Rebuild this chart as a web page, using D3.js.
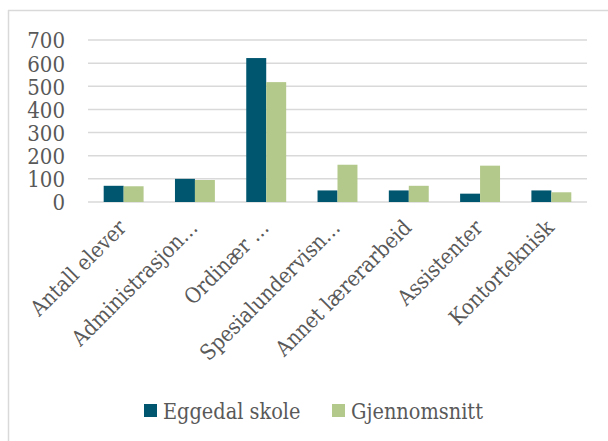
<!DOCTYPE html>
<html><head><meta charset="utf-8">
<script src="https://cdn.jsdelivr.net/npm/d3@7"></script>
<style>body{margin:0;background:#fff}svg{display:block}</style>
</head><body>
<script>
const categories = ["Antall elever","Administrasjon…","Ordinær …","Spesialundervisn…","Annet lærerarbeid","Assistenter","Kontorteknisk"];
const seriesNames = ["Eggedal skole","Gjennomsnitt"];
const eggedal = [70,100,622,50,50,36,50];
const snitt = [68,95,518,161,70,157,42];
const yTicks = [0,100,200,300,400,500,600,700];
const colors = ["#00566F","#B3C98B"];

const W=608,H=441;
const svg=d3.select("body").append("svg").attr("width",W).attr("height",H);
svg.append("rect").attr("width",W).attr("height",H).attr("fill","#fff");
svg.append("line").attr("x1",8).attr("x2",W).attr("y1",10.5).attr("y2",10.5).attr("stroke","#d9d9d9").attr("stroke-width",1.5);
svg.append("line").attr("x1",8.5).attr("x2",8.5).attr("y1",10).attr("y2",H).attr("stroke","#d9d9d9").attr("stroke-width",1.5);

const font="'DejaVu Serif Condensed','DejaVu Serif', serif";
const fs=21.5;
const x0=d3.scaleBand().domain(categories).range([88,587]).paddingInner(0.44).paddingOuter(0.22);
const x1=d3.scaleBand().domain(seriesNames).range([0,x0.bandwidth()]);
const y=d3.scaleLinear().domain([0,700]).range([202,40]);

svg.append("g").selectAll("line").data(yTicks).join("line")
  .attr("x1",88).attr("x2",587).attr("y1",d=>y(d)).attr("y2",d=>y(d))
  .attr("stroke","#d9d9d9").attr("stroke-width",1.5);

const yAxis=svg.append("g").attr("transform","translate(65,0)")
  .call(d3.axisLeft(y).tickValues(yTicks).tickSize(0).tickPadding(0));
yAxis.select(".domain").remove();
yAxis.selectAll("text").attr("font-family",font).attr("font-stretch","condensed").attr("font-size",22).attr("fill","#595959").attr("dy","0.36em");

const data=categories.map((c,i)=>({c,v:[eggedal[i],snitt[i]]}));
const g=svg.append("g").selectAll("g").data(data).join("g").attr("transform",d=>`translate(${x0(d.c)},0)`);
g.selectAll("rect").data(d=>d.v.map((v,j)=>({k:seriesNames[j],v,j}))).join("rect")
  .attr("x",d=>x1(d.k)).attr("width",x1.bandwidth())
  .attr("y",d=>y(d.v)).attr("height",d=>y(0)-y(d.v))
  .attr("fill",d=>colors[d.j]);

const xAxis=svg.append("g").attr("transform","translate(0,202)")
  .call(d3.axisBottom(x0).tickSize(0).tickPadding(0));
xAxis.select(".domain").remove();
xAxis.selectAll("text")
  .attr("font-family",font).attr("font-stretch","condensed").attr("font-size",fs).attr("fill","#595959")
  .attr("text-anchor","end").attr("dy",0)
  .attr("transform","translate(4,27) rotate(-45)");

const leg=svg.append("g");
const legX=[144,332];
seriesNames.forEach((s,i)=>{
  leg.append("rect").attr("x",legX[i]).attr("y",404).attr("width",13).attr("height",13).attr("fill",colors[i]);
  leg.append("text").attr("x",legX[i]+19).attr("y",419).text(s)
    .attr("font-family",font).attr("font-stretch","condensed").attr("font-size",fs).attr("fill","#595959");
});
</script>
</body></html>
